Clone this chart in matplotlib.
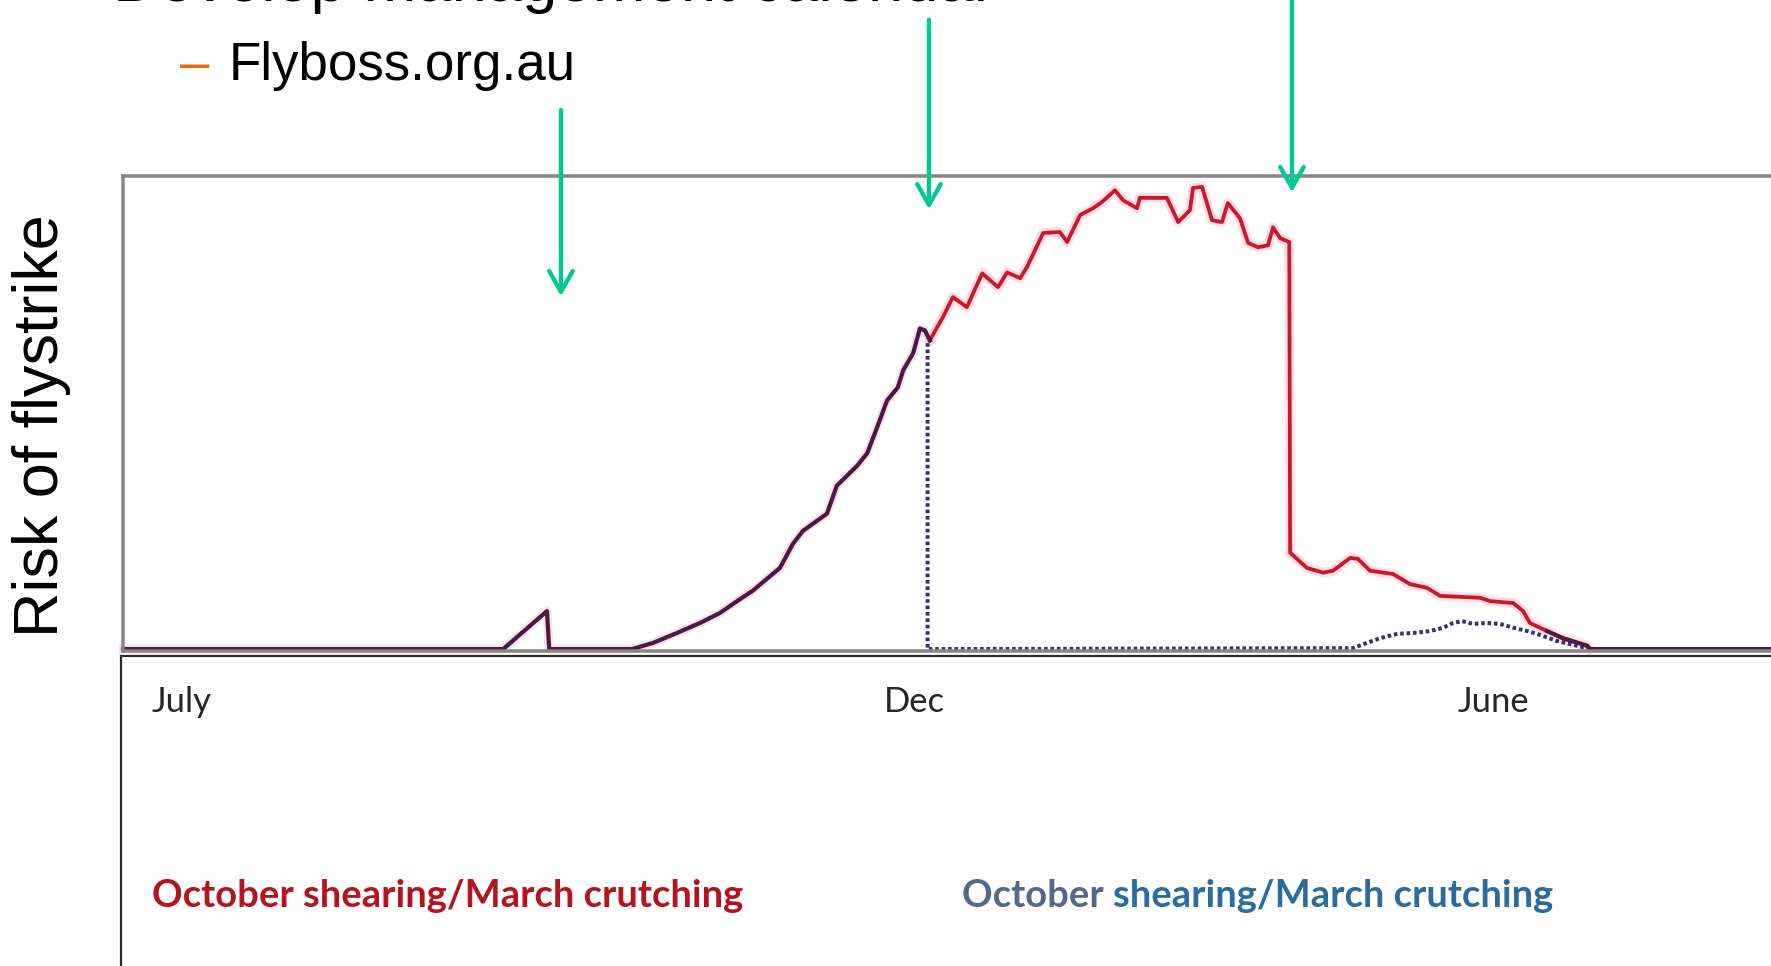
import matplotlib
matplotlib.use("Agg")
import matplotlib.pyplot as plt
from matplotlib.lines import Line2D
from matplotlib.transforms import blended_transform_factory

# ---------------- data ----------------
# x: days from 1 July, y: relative risk of flystrike (0-100)
shared_day = [0, 84.2, 93.9, 94.4, 112.7, 117.4, 122.7, 127.8, 132.2, 136.0, 139.5,
              145.5, 148.4, 150.6, 155.9, 158.1, 162.6, 164.8, 167.0, 169.2, 171.6,
              172.8, 175.0, 176.5, 177.6, 178.7]
shared_risk = [0.4, 0.4, 8.4, 0.4, 0.4, 1.7, 3.8, 5.9, 8.0, 10.5, 12.7,
               17.5, 22.6, 25.3, 28.9, 34.8, 39.0, 41.6, 47.0, 52.7, 55.5,
               59.1, 62.7, 67.9, 67.5, 65.4]

red_day = [178.7, 181.6, 183.8, 186.9, 190.3, 193.8, 195.8, 198.7, 200.2, 203.8,
           207.5, 209.1, 212.0, 214.8, 216.8, 219.7, 221.5, 224.6, 225.2, 231.2,
           233.7, 236.3, 237.0, 239.0, 241.2, 243.4, 244.7, 247.4, 249.2, 251.4,
           253.6, 254.7, 256.3, 258.3, 258.5, 262.2, 265.8, 268.0, 271.8, 273.5,
           276.2, 281.3, 285.0, 288.8, 291.7, 300.6, 302.8, 307.9, 310.1, 311.6,
           315.4, 318.9, 324.3, 324.9]
red_risk = [65.4, 70.3, 74.5, 72.4, 79.5, 76.6, 79.7, 78.5, 80.8, 88.0,
            88.2, 86.1, 91.8, 93.2, 94.5, 97.0, 94.9, 93.2, 95.4, 95.4,
            90.3, 92.8, 97.5, 97.7, 90.7, 90.3, 94.3, 91.1, 85.9, 85.0,
            85.4, 89.2, 86.9, 86.1, 20.7, 17.5, 16.5, 16.9, 19.6, 19.4,
            16.9, 16.2, 14.1, 13.3, 11.6, 11.2, 10.5, 10.1, 8.4, 5.9,
            4.2, 2.7, 1.1, 0.4]

tail_day = [315.4, 318.9, 324.3, 324.9, 365]
tail_risk = [4.2, 2.7, 1.1, 0.4, 0.4]

blue_day = [178.2, 178.2, 272.4, 275.5, 278.4, 282.2, 285.7, 289.5, 292.4, 294.6,
            296.6, 299.0, 302.1, 305.0, 307.9, 311.0, 313.2, 317.6, 324.3]
blue_risk = [64.8, 0.4, 0.6, 1.7, 2.7, 3.6, 3.8, 4.2, 4.9, 5.9,
             6.3, 5.7, 5.9, 5.7, 4.9, 4.2, 3.6, 2.1, 0.6]

month_labels = ["July", "Dec", "June"]
month_days = [6.4, 168.5, 295.5]

arrow_days = [97.0, 178.5, 258.9]
arrow_tips = [74.7, 93.0, 96.6]
arrow_tops = [113.9, 132.9, 139.2]

legend_red = "October shearing/March crutching"
legend_blue_a = "October "
legend_blue_b = "shearing/March crutching"

# ---------------- figure ----------------
W, H = 1771, 966
fig = plt.figure(figsize=(W / 100, H / 100), dpi=100)
fig.patch.set_facecolor("white")
PT = 0.72  # points per pixel at dpi 100

def fx(x):
    return x / W

def fy(y):
    return 1 - y / H

ax = fig.add_axes([fx(123), fy(651), (W - 123) / W, (651 - 176) / H])
ax.set_xlim(0, 365)
ax.set_ylim(0, 100)
ax.set_xticks([])
ax.set_yticks([])
for s in ["top", "left", "bottom"]:
    ax.spines[s].set_color("#868686")
    ax.spines[s].set_linewidth(3.5 * PT)
ax.spines["right"].set_visible(False)

# lower box
fig.add_artist(Line2D([fx(121), fx(W)], [fy(656), fy(656)], color="#2a2a2a", lw=2.2 * PT))
fig.add_artist(Line2D([fx(121), fx(121)], [fy(656), fy(H)], color="#2a2a2a", lw=2.2 * PT))

# curves
ax.plot(red_day, red_risk, color="#ffc9d6", lw=10 * PT, alpha=0.6, clip_on=False,
        solid_joinstyle="round")
ax.plot(shared_day, shared_risk, color="#f4c8e8", lw=9 * PT, alpha=0.5, clip_on=False)
ax.plot(red_day, red_risk, color="#c8182e", lw=3.8 * PT, clip_on=False)
ax.plot(blue_day, blue_risk, color="#33336e", lw=4 * PT, linestyle=(0, (0.9, 0.7)),
        clip_on=False)
ax.plot(shared_day, shared_risk, color="#4a1a42", lw=4.2 * PT, clip_on=False)
ax.plot(tail_day, tail_risk, color="#4a1a42", lw=4.2 * PT, clip_on=False)

# arrows
green = "#00c994"
for d, tip, top in zip(arrow_days, arrow_tips, arrow_tops):
    ax.annotate("", xy=(d, tip), xytext=(d, top),
                arrowprops=dict(arrowstyle="->,head_length=1.5,head_width=0.85",
                                color=green, lw=4.3 * PT, mutation_scale=10,
                                shrinkA=0, shrinkB=0),
                annotation_clip=False)

renderer = fig.canvas.get_renderer()

def fit_w(t, target):
    w = t.get_window_extent(renderer).width
    t.set_fontsize(t.get_fontsize() * target / w)
    return t

def fit_h(t, target):
    h = t.get_window_extent(renderer).height
    t.set_fontsize(t.get_fontsize() * target / h)
    return t

arial = "Liberation Sans"
cal = "Lato"

t = fig.text(fx(113), fy(1), "Develop management calendar", family=arial,
             fontsize=45, color="black", va="baseline", ha="left")
fit_w(t, 881)

fig.text(fx(180), fy(80), "\u2013", family=arial, fontsize=38, color="#e46c0a",
         va="baseline", ha="left")
t = fig.text(fx(229), fy(80), "Flyboss.org.au", family=arial, fontsize=38,
             color="black", va="baseline", ha="left")
fit_w(t, 347)

t = fig.text(fx(42), fy(426), "Risk of flystrike", family=arial, fontsize=45,
             rotation=90, ha="center", va="center", color="black")
fit_h(t, 423)

# month labels
trans = blended_transform_factory(ax.transData, fig.transFigure)
mt = []
for lab, d in zip(month_labels, month_days):
    mt.append(ax.text(d, fy(712), lab, transform=trans, family=cal, fontsize=30,
                      color="#262626", ha="left", va="baseline"))
w_dec = mt[1].get_window_extent(renderer).width
for m in mt:
    m.set_fontsize(m.get_fontsize() * 61 / w_dec)

# legend texts
t = fig.text(fx(152), fy(907), legend_red, family=cal, fontweight="bold",
             fontsize=30, color="#b3141f", va="baseline", ha="left")
fit_w(t, 590)
fs = t.get_fontsize()
ta = fig.text(fx(962), fy(907), legend_blue_a, family=cal, fontweight="bold",
              fontsize=fs, color="#55688a", va="baseline", ha="left")
wa = ta.get_window_extent(renderer).width
fig.text(fx(962 + wa), fy(907), legend_blue_b, family=cal, fontweight="bold",
         fontsize=fs, color="#2b6c9c", va="baseline", ha="left")

fig.savefig("out.png", dpi=100, facecolor="white")
